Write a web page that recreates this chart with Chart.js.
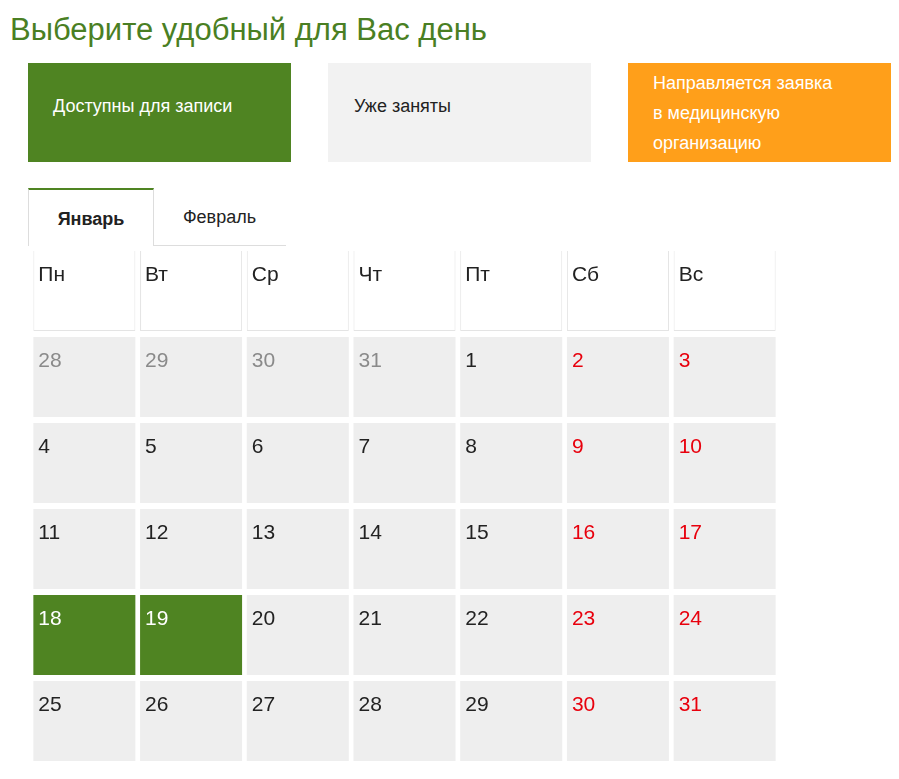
<!DOCTYPE html>
<html><head><meta charset="utf-8">
<script src="https://cdn.jsdelivr.net/npm/chart.js@4"></script>
<style>
body{margin:0;background:#fff;font-family:"Liberation Sans",Arial,sans-serif;width:899px;height:779px;position:relative;overflow:hidden}
h1{position:absolute;left:10px;top:12px;margin:0;font-weight:normal;font-size:31px;color:#4a7f23}
.lg{position:absolute;top:63px;width:263px;height:99px;box-sizing:border-box;font-size:18px;line-height:30px}
.tab{position:absolute;top:188px;height:58px;box-sizing:border-box;font-size:18px;line-height:58px;text-align:center;color:#222}
#wrap{position:absolute;left:31px;top:251px;width:747px;height:516px}
</style></head><body>
<h1>Выберите удобный для Вас день</h1>
<div class="lg" style="left:28px;background:#4f8422;color:#fff;padding:28px 0 0 25px">Доступны для записи</div>
<div class="lg" style="left:328px;background:#f2f2f2;color:#222;padding:28px 0 0 26px">Уже заняты</div>
<div class="lg" style="left:628px;background:#ff9f1a;color:#fff;padding:5px 0 0 25px">Направляется заявка<br>в медицинскую<br>организацию</div>
<div class="tab" style="left:28px;width:126px;border-top:2px solid #4f8422;border-right:1px solid #ddd;border-left:1px solid #ddd;font-weight:bold">Январь</div>
<div class="tab" style="left:153px;width:133px;border-bottom:1px solid #ddd;">Февраль</div>
<div id="wrap"><canvas id="c"></canvas></div>
<script>
const dayNames=["Пн","Вт","Ср","Чт","Пт","Сб","Вс"];
const week1=[28,29,30,31,1,2,3];
const week2=[4,5,6,7,8,9,10];
const week3=[11,12,13,14,15,16,17];
const week4=[18,19,20,21,22,23,24];
const week5=[25,26,27,28,29,30,31];
// status: o = other month, a = available, n = normal
const status1=["o","o","o","o","n","n","n"];
const status2=["n","n","n","n","n","n","n"];
const status3=["n","n","n","n","n","n","n"];
const status4=["a","a","n","n","n","n","n"];
const status5=["n","n","n","n","n","n","n"];
const weeks=[week1,week2,week3,week4,week5];
const statuses=[status1,status2,status3,status4,status5];
const H=80/86;
const datasets=[{label:"h",data:dayNames.map(()=>[0,H]),backgroundColor:"#fff",borderColor:"#e4e4e4",borderWidth:1,grouped:false,txt:dayNames,txtCol:dayNames.map(()=>"#222")}];
weeks.forEach((w,i)=>{
  const r=i+1;
  datasets.push({label:"w"+r,data:w.map(()=>[r,r+H]),grouped:false,borderWidth:0,
    backgroundColor:statuses[i].map(s=>s==="a"?"#4f8422":"#eeeeee"),
    txt:w.map(String),
    txtCol:statuses[i].map((s,j)=>s==="a"?"#fff":s==="o"?"#8a8a8a":(j>=5?"#e8000d":"#222"))});
});
const txtPlugin={id:"t",afterDatasetsDraw(ch){const c=ch.ctx;c.save();c.font='21px "Liberation Sans", Arial';c.textBaseline="alphabetic";
 ch.data.datasets.forEach((d,di)=>{ch.getDatasetMeta(di).data.forEach((el,j)=>{c.fillStyle=d.txtCol[j];
  const x=el.x-el.width/2+5;const top=Math.min(el.y,el.base);c.fillText(d.txt[j],x,top+30);});});c.restore();}};
new Chart(document.getElementById("c"),{type:"bar",data:{labels:dayNames,datasets},
 options:{responsive:true,maintainAspectRatio:false,animation:false,layout:{padding:0},
  barPercentage:102/106.7,categoryPercentage:1,
  plugins:{legend:{display:false},tooltip:{enabled:false}},
  scales:{x:{display:false},y:{display:false,min:0,max:6,reverse:true}}},plugins:[txtPlugin]});
</script></body></html>
